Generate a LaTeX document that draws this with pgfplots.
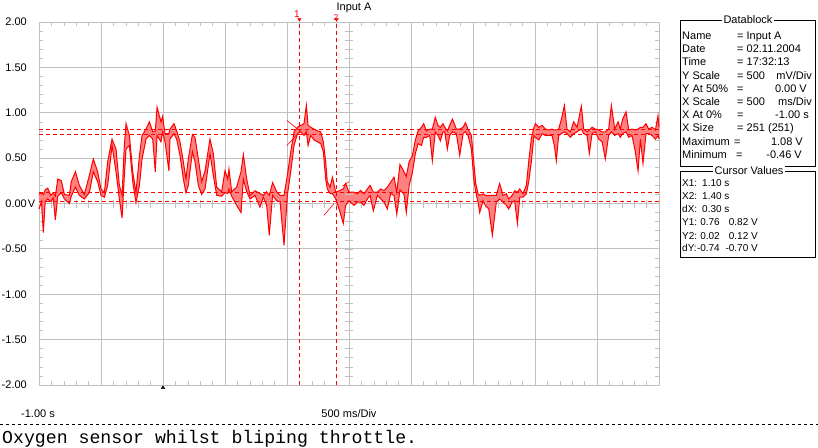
\documentclass[border=0pt]{standalone}
\usepackage{pgfplots}
\pgfplotsset{compat=1.18}
\usepgfplotslibrary{fillbetween}
\usepackage{pgfplotstable}
\usepackage{fontspec}
\setmainfont{Liberation Sans}
\newfontfamily\capfont{Liberation Mono}

\definecolor{wave}{HTML}{FF0000}
\definecolor{wavefill}{HTML}{FF8080}
\definecolor{gridgray}{HTML}{C0C0C0}

% min/max envelope of the trace, volts against seconds
\pgfplotstableread{
x lo hi
-1.000 -0.06 0.10
-0.980 0.02 0.12
-0.965 -0.32 0.10
-0.950 0.02 0.15
-0.930 0.05 0.17
-0.905 0.02 0.09
-0.885 0.06 0.12
-0.868 -0.18 0.08
-0.849 0.08 0.27
-0.820 0.12 0.25
-0.795 0.05 0.10
-0.755 0.00 0.09
-0.740 0.08 0.24
-0.706 0.18 0.35
-0.675 0.09 0.20
-0.634 0.05 0.10
-0.594 0.12 0.31
-0.562 0.35 0.49
-0.527 0.24 0.35
-0.500 0.09 0.16
-0.473 0.07 0.12
-0.446 0.20 0.46
-0.411 0.64 0.71
-0.379 0.35 0.60
-0.352 0.05 0.20
-0.330 -0.16 0.09
-0.312 0.30 0.64
-0.298 0.60 0.88
-0.271 0.64 0.75
-0.244 0.24 0.35
-0.218 0.01 0.12
-0.190 0.20 0.53
-0.169 0.49 0.75
-0.137 0.71 0.82
-0.110 0.75 0.90
-0.083 0.71 0.79
-0.062 0.35 0.80
-0.048 0.75 1.06
-0.016 0.68 0.90
-0.003 0.79 0.96
0.016 0.68 0.77
0.048 0.36 0.77
0.056 0.71 0.82
0.089 0.77 0.88
0.110 0.71 0.80
0.137 0.53 0.68
0.164 0.27 0.46
0.185 0.12 0.27
0.204 0.20 0.49
0.237 0.57 0.76
0.258 0.46 0.73
0.285 0.20 0.49
0.312 0.10 0.24
0.339 0.16 0.36
0.379 0.55 0.71
0.406 0.31 0.55
0.433 0.09 0.18
0.473 0.08 0.13
0.500 0.12 0.36
0.522 0.11 0.27
0.532 0.16 0.38
0.554 0.08 0.13
0.594 -0.02 0.18
0.629 -0.10 0.35
0.648 0.27 0.54
0.675 0.13 0.27
0.702 0.05 0.09
0.742 0.09 0.14
0.782 -0.04 0.11
0.809 0.07 0.09
0.836 -0.02 0.13
0.857 -0.35 0.09
0.884 0.09 0.23
0.917 0.03 0.13
0.944 0.02 0.09
0.976 -0.46 0.09
1.003 0.09 0.31
1.030 0.35 0.57
1.057 0.64 0.79
1.084 0.77 0.84
1.110 0.79 0.86
1.137 0.75 0.88
1.156 0.79 1.08
1.170 0.64 0.86
1.191 0.75 0.84
1.218 0.70 0.82
1.245 0.68 0.80
1.272 0.66 0.79
1.293 0.57 0.68
1.312 0.27 0.46
1.325 0.16 0.24
1.347 0.11 0.18
1.366 0.11 0.29
1.393 0.05 0.125
1.420 -0.06 0.14
1.454 -0.22 0.16
1.473 -0.02 0.22
1.500 0.03 0.125
1.540 -0.02 0.125
1.567 0.015 0.107
1.594 0.015 0.143
1.621 -0.02 0.107
1.648 0.05 0.16
1.670 0.09 0.20
1.696 -0.08 0.125
1.729 0.09 0.125
1.756 0.05 0.16
1.782 0.015 0.143
1.809 -0.06 0.18
1.836 0.107 0.235
1.863 0.09 0.29
1.885 -0.12 0.125
1.911 0.15 0.43
1.944 0.10 0.35
1.962 -0.10 0.30
1.985 0.20 0.46
2.010 0.33 0.52
2.035 0.55 0.70
2.057 0.66 0.80
2.084 0.64 0.84
2.102 0.73 0.88
2.124 0.73 0.80
2.151 0.75 0.82
2.172 0.47 0.82
2.196 0.79 0.95
2.218 0.75 0.86
2.237 0.69 0.84
2.258 0.79 0.88
2.272 0.79 0.84
2.293 0.60 0.80
2.312 0.75 0.86
2.334 0.79 0.93
2.366 0.77 0.82
2.393 0.53 0.82
2.420 0.77 0.84
2.438 0.79 0.89
2.460 0.75 0.82
2.487 0.60 0.75
2.506 0.27 0.46
2.522 0.125 0.22
2.541 0.015 0.107
2.554 -0.10 0.09
2.581 0.03 0.107
2.600 -0.02 0.09
2.627 -0.06 0.09
2.656 -0.35 0.09
2.688 0.015 0.09
2.715 0.05 0.22
2.742 0.015 0.09
2.769 -0.02 0.107
2.788 -0.06 0.05
2.815 0.015 0.09
2.836 0.03 0.14
2.858 -0.22 0.125
2.877 0.07 0.16
2.903 0.07 0.107
2.930 0.107 0.20
2.949 0.235 0.456
2.970 0.456 0.713
2.992 0.75 0.84
3.003 0.73 0.88
3.030 0.70 0.84
3.057 0.77 0.86
3.084 0.75 0.82
3.110 0.75 0.81
3.137 0.75 0.82
3.156 0.64 0.81
3.172 0.47 0.81
3.191 0.75 0.82
3.213 0.77 0.93
3.237 0.79 1.08
3.258 0.77 0.82
3.285 0.73 0.79
3.312 0.77 0.90
3.339 0.79 0.84
3.374 0.82 1.07
3.393 0.77 0.82
3.420 0.75 0.79
3.438 0.55 0.81
3.460 0.77 0.84
3.487 0.79 0.82
3.514 0.71 0.81
3.541 0.68 0.79
3.567 0.49 0.79
3.594 0.75 0.82
3.616 0.79 1.08
3.643 0.75 0.82
3.670 0.77 0.90
3.688 0.73 0.82
3.707 0.77 0.93
3.734 0.79 1.01
3.756 0.73 0.81
3.782 0.75 0.82
3.809 0.57 0.81
3.831 0.36 0.82
3.850 0.71 0.84
3.871 0.44 0.84
3.895 0.77 0.88
3.917 0.77 0.82
3.944 0.75 0.84
3.971 0.71 0.81
3.992 0.75 0.97
4.000 0.71 0.84
}\sig

\newcommand\tl[3]{\node[anchor=base west,inner sep=0pt] at (#1-39,385-#2) {#3};}
\newcommand\tr[3]{\node[anchor=base east,inner sep=0pt] at (#1-39,385-#2) {#3};}

\begin{document}
\begin{tikzpicture}[x=1pt,y=1pt,font=\fontsize{11}{13}\selectfont]

% small ticks on the centre cross (x shifted so that 0 is 1.5 s)
\begin{axis}[
    scale only axis, width=620pt, height=363pt,
    at={(0,0)}, anchor=south west,
    xmin=-2.5, xmax=2.5, ymin=-2, ymax=2,
    axis lines=middle, axis line style={draw=none},
    xtick distance=0.1, ytick distance=0.1,
    xticklabels={}, yticklabels={},
    tick style={gridgray, line width=0.6pt},
    major tick length=8pt, tick align=center,
  ]
  \addplot[draw=none] coordinates {(0,0)};
\end{axis}

\begin{axis}[
    scale only axis, width=620pt, height=363pt,
    at={(0,0)}, anchor=south west,
    xmin=-1, xmax=4, ymin=-2, ymax=2,
    xtick={-1,-0.5,0,0.5,1,1.5,2,2.5,3,3.5,4},
    ytick={-2,-1.5,-1,-0.5,0,0.5,1,1.5,2},
    xticklabels={},
    yticklabels={-2.00,-1.50,-1.00,-0.50,0.00\rlap{\hspace{1pt}V},0.50,1.00,1.50,2.00},
    minor x tick num=4, minor y tick num=4,
    xtick pos=both, ytick pos=both,
    grid=major, major grid style={gridgray, line width=0.8pt},
    axis line style={gridgray, line width=0.8pt},
    tick style={gridgray, line width=0.6pt},
    tick align=inside, major tick length=0pt, minor tick length=4pt,
    yticklabel style={anchor=east, inner sep=0pt, xshift=-12pt, font=\fontsize{11}{13}\selectfont},
    clip=false,
  ]
  \addplot[draw=none, name path=hi] table[x=x, y=hi] {\sig};
  \addplot[draw=none, name path=lo] table[x=x, y=lo] {\sig};
  \addplot[wavefill] fill between[of=hi and lo];
  \addplot[wave, line width=1pt] table[x=x, y=hi] {\sig};
  \addplot[wave, line width=1pt] table[x=x, y=lo] {\sig};

  % cursors
  \addplot[wave, line width=1pt, dash pattern=on 4pt off 3pt] coordinates {(-1,0.82) (4,0.82)};
  \addplot[wave, line width=1pt, dash pattern=on 4pt off 3pt] coordinates {(-1,0.76) (4,0.76)};
  \addplot[wave, line width=1pt, dash pattern=on 4pt off 3pt] coordinates {(-1,0.12) (4,0.12)};
  \addplot[wave, line width=1pt, dash pattern=on 4pt off 3pt] coordinates {(-1,0.02) (4,0.02)};
  \addplot[wave, line width=1pt, dash pattern=on 4pt off 3pt] coordinates {(1.10,-2) (1.10,2.02)};
  \addplot[wave, line width=1pt, dash pattern=on 4pt off 3pt] coordinates {(1.40,-2) (1.40,2.02)};
  \addplot[wave, line width=0.6pt] coordinates {(1.00,0.915) (1.089,0.816)};
  \addplot[wave, line width=0.6pt] coordinates {(1.00,0.64) (1.08,0.76)};
  \addplot[wave, line width=0.6pt] coordinates {(1.298,-0.13) (1.379,0.0)};
  \addplot[wave, line width=0.6pt] coordinates {(1.444,0.19) (1.50,0.24)};
  \addplot[only marks, wave, mark=triangle*, mark size=2pt, mark options={rotate=180}] coordinates {(1.10,2.03) (1.40,2.03)};
  % trigger
  \addplot[only marks, black, mark=triangle*, mark size=2pt] coordinates {(0,-2.03)};
\end{axis}

% titles and scale text
\node[inner sep=0pt] at (354-39,385-8) {Input A};
\node[text=wave, inner sep=0pt, font=\fontsize{10}{12}\selectfont] at (297-39,385-14) {1};
\node[text=wave, inner sep=0pt, font=\fontsize{8.5}{10}\selectfont] at (336-39,385-17.5) {2};
\node at (38-39,385-414) {-1.00 s};
\node at (349-39,385-414) {500 ms/Div};
\draw[black, line width=0.8pt, dash pattern=on 3pt off 3pt] (-39,385-424) -- (779,385-424);
\node[anchor=base west, inner sep=0pt, font=\capfont\fontsize{18.2}{20}\selectfont] at (2-39,385-443.5) {Oxygen sensor whilst bliping throttle.};

% datablock
\draw[black, line width=0.8pt] (680-39,385-20) rectangle (815-39,385-166);
\node[fill=white, inner sep=1.5pt] at (748-39,385-20) {Datablock};
\tl{682}{39.5}{Name}      \tl{737}{39.5}{= Input A}
\tl{682}{52.7}{Date}      \tl{737}{52.7}{= 02.11.2004}
\tl{682}{65.9}{Time}      \tl{737}{65.9}{= 17:32:13}
\tl{682}{79.1}{Y Scale}   \tl{737}{79.1}{= 500} \tr{812}{79.1}{mV/Div}
\tl{682}{92.3}{Y At 50\%} \tl{737}{92.3}{=}     \tr{807}{92.3}{0.00 V}
\tl{682}{105.5}{X Scale}  \tl{737}{105.5}{= 500} \tr{812}{105.5}{ms/Div}
\tl{682}{118.7}{X At 0\%} \tl{737}{118.7}{=}    \tr{809}{118.7}{-1.00 s}
\tl{682}{131.9}{X Size}   \tl{737}{131.9}{= 251 (251)}
\tl{682}{145.1}{Maximum}  \tl{734}{145.1}{=}    \tr{803}{145.1}{1.08 V}
\tl{682}{158.3}{Minimum}  \tl{736}{158.3}{=}    \tr{802}{158.3}{-0.46 V}

% cursor values
\draw[black, line width=0.8pt] (680-39,385-171) rectangle (815-39,385-257);
\node[fill=white, inner sep=1.5pt] at (749-39,385-170.5) {Cursor Values};
\begin{scope}[font=\fontsize{10}{12}\selectfont]
\tl{682}{187}{X1:} \tl{702}{187}{1.10 s}
\tl{682}{200}{X2:} \tl{702}{200}{1.40 s}
\tl{682}{213}{dX:} \tl{702}{213}{0.30 s}
\tl{682}{226}{Y1:} \tr{720}{226}{0.76} \tr{758}{226}{0.82 V}
\tl{682}{239}{Y2:} \tr{720}{239}{0.02} \tr{758}{239}{0.12 V}
\tl{682}{252}{dY:} \tr{720}{252}{-0.74} \tr{758}{252}{-0.70 V}
\end{scope}

\pgfresetboundingbox
\useasboundingbox (-39,-62) rectangle (779,385);
\end{tikzpicture}
\end{document}
